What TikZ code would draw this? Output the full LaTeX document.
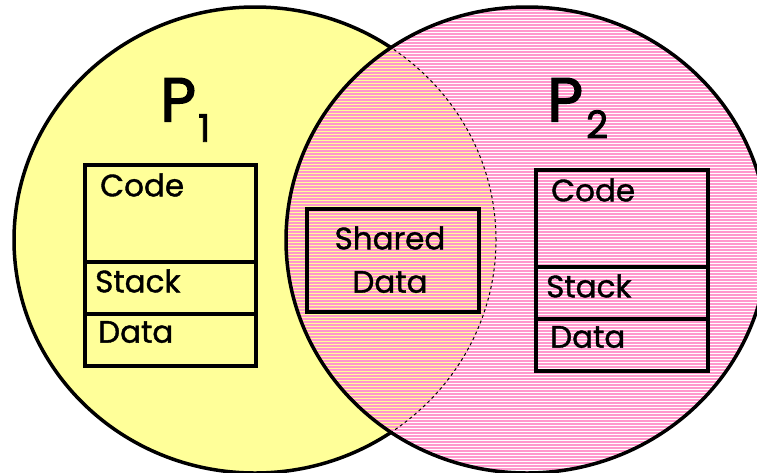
\documentclass[tikz,border=0pt]{standalone}
\usepackage{fontspec}
\setmainfont{Poppins}
\newfontfamily\lblfont{Poppins}[FakeBold=1.2]
\newfontfamily\titlefont{Poppins}[FakeBold=2.2]
\definecolor{yel}{RGB}{255,255,153}
\definecolor{pnk}{RGB}{255,153,204}
\tikzset{
  outline/.style={draw=black, line width=3.5pt},
  seg/.style={draw=black, line width=3.5pt, rectangle, inner sep=0pt, anchor=north west},
  lbl/.style={inner sep=0pt, anchor=west, font=\lblfont\fontsize{31}{34}\selectfont},
  clbl/.style={inner sep=0pt, anchor=center, font=\lblfont\fontsize{31}{34}\selectfont},
  bigP/.style={inner sep=0pt, anchor=north west, font=\titlefont\fontsize{62}{64}\selectfont},
  subn/.style={inner sep=0pt, anchor=north west, font=\titlefont\fontsize{38}{40}\selectfont},
  hidden/.style={draw=black, line width=1pt, dash pattern=on 3pt off 3pt}
}
\begin{document}
\begin{tikzpicture}[x=1pt,y=-1pt]
\useasboundingbox (0,0) rectangle (757,472);
\clip (0,0) rectangle (757,472);
% left process
\fill[yel] (255,240) ellipse [x radius=241pt, y radius=233pt];
\draw[outline] (255,240) ellipse [x radius=241pt, y radius=233pt];
% right process, striped
\begin{scope}
  \clip (527,240) ellipse [x radius=241pt, y radius=233pt];
  \fill[white] (280,0) rectangle (770,480);
  \fill[yel] (255,240) ellipse [x radius=241pt, y radius=233pt];
  \foreach \yy in {1,4,...,478} {
    \draw[pnk, line width=2pt] (280,\yy) -- (770,\yy);
  }
  \draw[hidden] (255,240) ellipse [x radius=241pt, y radius=233pt];
\end{scope}
\draw[outline] (527,240) ellipse [x radius=241pt, y radius=233pt];
% P1 boxes
\node[seg, minimum width=171pt, minimum height=97pt] (code1) at (83,163) {};
\node[seg, minimum width=171pt, minimum height=52pt] (stack1) at (83,260) {};
\node[seg, minimum width=171pt, minimum height=52pt] (data1) at (83,312) {};
\node[lbl] (tcode1) at (100,185) {Code};
\node[lbl] (tstack1) at (95,281) {Stack};
\node[lbl] (tdata1) at (98,332) {Data};
% P2 boxes
\node[seg, minimum width=172pt, minimum height=97pt] (code2) at (534,168) {};
\node[seg, minimum width=172pt, minimum height=52pt] (stack2) at (534,265) {};
\node[seg, minimum width=172pt, minimum height=52pt] (data2) at (534,317) {};
\node[lbl] (tcode2) at (551,190) {Code};
\node[lbl] (tstack2) at (546,286) {Stack};
\node[lbl] (tdata2) at (550,337) {Data};
% shared
\node[seg, minimum width=172pt, minimum height=103pt] (shared) at (305,207) {};
\node[clbl] (tsh1) at (390,238) {Shared};
\node[clbl] (tsh2) at (390,282) {Data};
% titles
\node[bigP] (p1) at (160,78) {P};
\node[subn] (s1) at (198,114) {1};
\node[bigP] (p2) at (547,78) {P};
\node[subn] (s2) at (586,110) {2};
\end{tikzpicture}
\end{document}
